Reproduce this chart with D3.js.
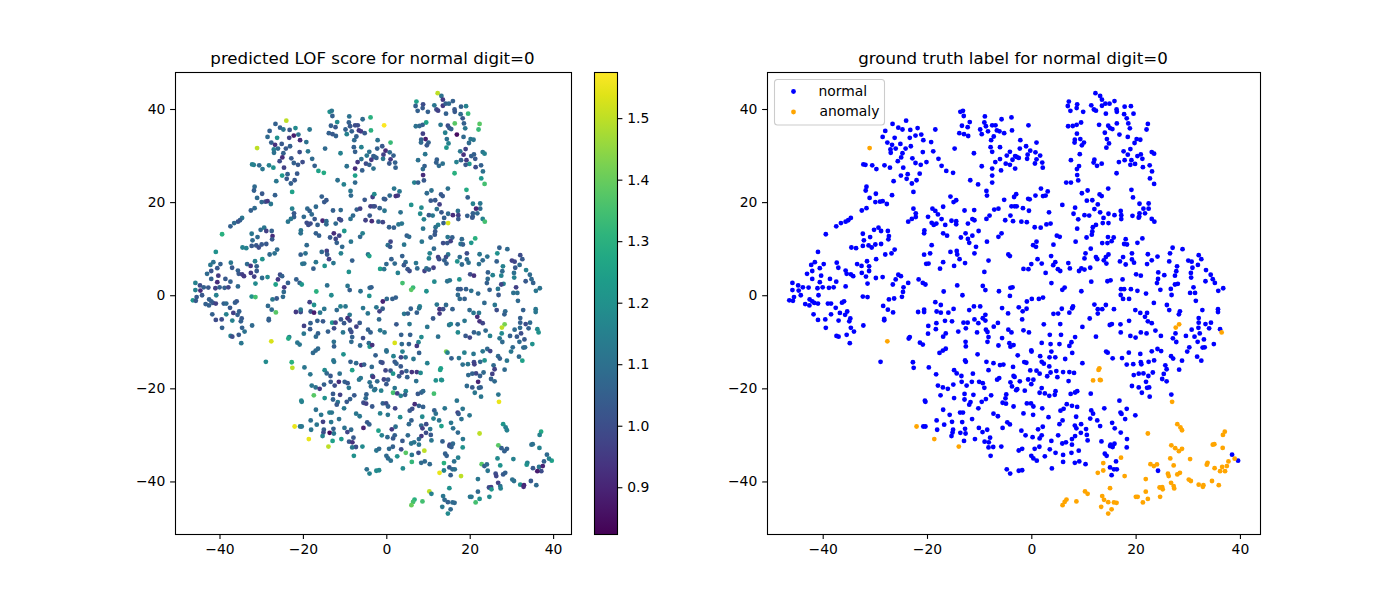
<!DOCTYPE html>
<html>
<head>
<meta charset="utf-8">
<title>LOF score</title>
<script src="https://cdn.jsdelivr.net/npm/d3@7"></script>
<style>
  html, body { margin: 0; padding: 0; background: #fff; }
  svg { display: block; }
  text { font-family: "DejaVu Sans", sans-serif; fill: #000; }
</style>
</head>
<body>
<svg id="chart"></svg>
<script>
// [x, y, LOF score]
const normalPts = [
[-26.7,36.8,1.05],[-25.6,36,1.05],[-24.1,37.5,1.5],[-24.8,35.6,1.12],[-23.3,35.5,1.03],[-21.9,35.9,1.18],[-18.5,35.6,1.12],[-28.1,35.3,1.05],[-22.3,34.3,.88],[-21.2,34.5,1.1],[-23.4,33.8,.97],[-28.6,34,1.08],[-26.3,33.8,1.2],[-20.8,33.3,.92],[-19.3,32.9,1.1],[-27.7,32.8,1.05],[-26.8,32.3,.93],[-25.2,32.5,1.03],[-23.2,32,1.05],[-27.1,31.3,1.15],[-26.1,31.5,1.08],[-24.2,31.5,1.03],[-27.05,30.6,1.1],[-24.8,30.5,1.05],[-20.9,30.75,1],[-18.9,30.9,1.12],[-14.8,31.5,1.08],[-11.1,30.5,1.15],[-25.05,29.6,.92],[-22.9,29.4,1.03],[-25.7,28.8,1],[-17.9,29.3,1.08],[-22.3,28.4,1.05],[-20.2,28.6,1],[-21.3,28,1.03],[-32.3,28.1,1.15],[-31.9,28,1.15],[-30.6,27.9,1.08],[-29.8,27.1,1.12],[-28.25,27.9,1.15],[-27.2,27.4,1.2],[-24.65,27.4,.97],[-17.3,27.8,1.05],[-16.4,26.7,1.25],[-15.1,26.3,1.28],[-23.8,26,1.05],[-21.5,26.1,1.03],[-25.1,25.7,1.22],[-24,25,1.03],[-22.1,24.7,1.03],[-26.5,24.5,1.12],[-23,24,1.05],[-22.7,22.2,1.25],[-31.7,23.3,1.08],[-31.85,22.5,1.05],[-29.9,21.8,1.03],[-26.8,21.5,1.05],[-31.1,20.9,1.08],[-30,20,1.08],[-29.1,20.1,1.02],[-28.6,20.2,.95],[-27.8,19.6,1.12],[-31.7,18.7,1.08],[-32.6,18.2,1.05],[-34.7,16.6,1.12],[-35.2,16.1,1.05],[-35.7,15.8,1.02],[-36.6,15.5,1.08],[-37.5,14.8,1.05],[-39.5,13.1,1.3],[-32.4,13.2,1.12],[-30.25,14.05,1.08],[-29.4,14.5,1.12],[-28.9,13.8,.97],[-27.6,13.8,1.05],[-27.4,12.7,.92],[-27.5,12,1.03],[-31,12.5,1.08],[-32.2,11.8,1.08],[-32.4,10.6,1.03],[-34.6,10.25,1.15],[-33.7,10.1,1.15],[-31.3,10.7,1.03],[-30.7,10.25,1],[-30,10.9,1.03],[-28.9,11,1.03],[-26.3,9.8,1.08],[-26.9,9,1.1],[-28.1,8.75,1.08],[-29.85,7.75,1.2],[-31.6,7.3,1.15],[-41,9.3,1.2],[-37.4,7,1.12],[-41.6,7.1,1.1],[-42.3,6.5,1.12],[-39.9,6.7,1.05],[-33.5,6.7,1.08],[-32.65,6.3,.95],[-37.1,5.9,1.03],[-40.65,5.8,1.03],[-31.2,6.2,1.05],[-42.1,5.2,1.02],[-43.1,4.6,1.08],[-35.7,5.3,1.05],[-35.5,4.6,1.03],[-34.7,4.5,.97],[-34.25,4.1,.95],[-32.6,4.8,.95],[-31.2,5.2,1.03],[-31.8,4,.97],[-40.4,4.2,.95],[-42.1,3.5,1.05],[-38.7,3.5,1.03],[-40.65,2.8,.92],[-37.5,2.9,1.05],[-29.9,3.7,1.08],[-28.6,3.9,1.18],[-25.6,4.4,1],[-25.1,4.1,1.05],[-26.1,3.4,.95],[-23.7,2.65,1.05],[-26.65,2.3,1.25],[-31.5,2.5,1.18],[-21.7,3.4,1.05],[-20.9,2.65,1.05],[-20.4,2.3,1.22],[-24.6,1.7,.95],[-24.7,.7,1.08],[-45.9,2.65,1.15],[-44.8,2.1,1],[-43.9,1.7,1.05],[-42.8,1.65,1.03],[-41.1,1.5,.97],[-40.1,1.7,1.05],[-38.9,1.6,1.05],[-38,1.7,.98],[-35.7,1.9,1.08],[-45.9,1.1,1.15],[-44.7,1,.92],[-44.3,0,1.03],[-40.9,0,1.15],[-46.5,-1.1,1.22],[-45.6,-.4,1.03],[-45.8,-1.2,1.03],[-32.4,-.3,1.2],[-31.5,-.4,1.35],[-27.4,-.9,1.12],[-26.4,-.7,1.03],[-24.9,-.35,1.08],[-14.3,2.1,1.1],[-16.9,.8,1.3],[-13.3,0,1.18],[-9.4,2,1.12],[-8.9,1.1,1.05],[-6.3,.85,1.1],[-4.2,-.15,1.2],[-4.1,1.6,1.08],[-3.7,1.7,1.05],[-42.6,-.9,1.05],
[-13.7,39.4,1.2],[-13.2,39.6,1.12],[-13.05,38.5,1.05],[-9,38.4,1.1],[-3.9,38.2,1.3],[-5.8,37.8,1.08],[-11.9,37.2,1.18],[-9.1,37.1,1.05],[-13.4,36.4,1.05],[-12.3,36.1,1.03],[-8.8,36.3,1.03],[-7.6,36.5,1],[-6.96,36.5,1],[-9.9,35.6,1.05],[-8.4,35.2,1.05],[-6.7,35.4,.95],[-6.2,35.2,.95],[-5.3,34.8,1.03],[-3.8,35.4,1.3],[-13.9,34.8,1.05],[-13,34.6,1.03],[-12.2,34.2,1.05],[-9.6,34.6,1.15],[-7.3,34.1,1.05],[-7.8,33.3,1.08],[-7.9,31.8,1.05],[-6.1,31.8,1.15],[-7.6,30.8,1.05],[-4.2,30.8,1.1],[-4.8,30,1.12],[-3.2,29.9,1.05],[-6.1,29.25,1.1],[-7,28.6,.95],[-5,28.25,1],[-4.2,28,1.05],[-9.6,27.7,1.1],[-7.6,27.2,.92],[-5.9,26.8,1.05],[-3.2,27.2,1.1],[-7.6,25.7,1.25],[-11.8,24.7,1.1],[-10.3,23.8,1.15],[-7.6,24.2,1.08],[-8.7,22.4,1.12],[-8.6,21.4,1.08],[-15.6,21.2,1.05],[-14.5,20.4,1.03],[-15,20,1.03],[-5.3,20.5,1.03],[-3.4,21.1,.97],[-3,21.7,1.18],[-3.3,19.1,1.05],[-3.9,19.1,.97],[-17,19,1.08],[-22.7,18.6,1.15],[-19.05,18.6,1.08],[-18.5,18.1,1.05],[-22.25,17.6,1.03],[-12.9,18.2,1.05],[-11.05,18.3,1.08],[-7.2,18.4,1.05],[-6.4,18.6,.97],[-8.1,17.1,1.08],[-8.7,16.4,1.1],[-22.25,16.8,1.05],[-23,16.4,1.12],[-23.7,15.8,1.12],[-19.9,16.85,1.08],[-18,17.35,1.08],[-17.3,16.35,1.03],[-15.4,16,.9],[-14.5,15.9,1.08],[-14.5,15.25,1.08],[-11.4,16.35,.98],[-11,16.1,1],[-12.25,15.4,1.08],[-4.1,17.1,1.03],[-5.1,16.1,.97],[-3.6,15.9,.92],[-19.2,15.55,1],[-18.3,15.4,1],[-18.8,15.1,1],[-16.6,15.1,1.05],[-20.6,13.9,1.12],[-20.65,13.3,1.1],[-17,13.3,1.05],[-16.25,12.8,1.05],[-12.7,13.3,.92],[-13.6,12.4,1.03],[-12.25,12.1,.98],[-11.4,12.8,.98],[-10.2,13.8,1.22],[-5.8,13.3,1.15],[-6.4,12.55,1.08],[-12,11.25,1.05],[-8.6,11.5,1.12],[-10.7,10.4,1.08],[-19.2,10.75,1.08],[-15.6,9.3,1.08],[-14.4,9.5,.97],[-14.3,8.75,1.03],[-11,9,1.15],[-20.65,8.7,1.05],[-19.5,9,1.1],[-4.5,8.75,1.12],[-4.2,8.4,1.25],[-13.85,7.75,.97],[-8.3,7.45,1.05],[-17,7.1,1.12],[-20.25,6.75,1.12],[-19.8,6.8,1.1],[-12.8,6.9,1.12],[-14.9,6.3,1.2],[-17.6,5.7,1.05],[-9.1,5,1.2],
[-.64,36.5,1.57],[-2.2,33.3,1.1],[.9,32.8,1.33],[-1.1,32,1.03],[-2.3,31.5,1.05],[-.3,31.05,.92],[-.8,30.2,.97],[.7,30.7,1.08],[1.6,30,1.05],[-.9,29.3,1.12],[-2.5,29.5,1.05],[.9,29.2,.95],[-3.7,29.1,.95],[-2.9,29.7,1.05],[2,28.5,1.05],[2.1,27.4,1.05],[.6,28.3,1.03],[7.1,41.6,1.25],[6.9,40.65,1.05],[8.7,41,1],[8.6,40.2,1.03],[7.4,39.6,1.05],[9.85,39.4,1.05],[12.2,43.4,1.5],[13.1,42.8,1.1],[13.45,42,.95],[11.4,40.8,1.12],[13.45,40.7,.95],[14.1,41.15,1.05],[14.9,41.15,1.08],[15.85,41.7,1.05],[11.9,39.9,1],[12.3,39.65,.97],[14.2,39,1.05],[16.25,39.9,1.03],[16.3,39.4,1.03],[17.8,40.5,1.05],[19,40.6,1.15],[19.5,39,1.33],[17.7,38.9,1.08],[18.2,38,1.03],[18.5,36.9,1.05],[16.3,36.9,1.38],[22.25,36.8,1.38],[22,35.6,1.33],[6.96,36.3,1.1],[7.85,36.35,1.08],[8.6,36.6,1.05],[9.45,37.1,1.25],[12.9,36.6,1.12],[14.65,36.4,1],[15,35.9,1.03],[15.45,35.7,1.05],[18.8,35.85,1.12],[14,34.9,1.15],[16.8,34.5,.85],[8.65,34.7,.97],[18.4,34,1.08],[9.3,33.55,.88],[8.25,33.4,1.05],[8.2,32.8,1.08],[10,32.8,1.05],[9.6,32.2,1.03],[14.4,33.55,1.1],[14.8,32.6,1.15],[14.3,31.7,1.22],[19.7,32.7,1.08],[20.1,33.55,1.12],[20.8,33.4,1.12],[18.9,31.4,.97],[17.6,30.9,1.12],[18.4,30.2,.93],[23,30.75,1.12],[23.45,30.4,1.15],[9.2,30.3,1.12],[20.25,29.9,1.05],[20.9,30.25,1.05],[21.2,29.3,1.03],[7.5,29,1.1],[12,29.1,1.05],[19.1,29,.95],[17.8,29,1.05],[16.7,28.6,1.15],[19.8,28.2,1.22],[18.9,28,1.03],[11.85,28.5,1.05],[12.5,27.8,1.08],[13.4,28.25,1.1],[22.6,27.9,1.05],[21.3,27.5,1],[9.05,27.75,1.05],[8.65,27.1,1.08],[23.05,26.6,1.1],[16.25,26.2,1.3],[8.7,25.8,.92],[22.65,25.1,1.22],[23.45,23.9,1.35],[6.6,24.2,1.15],[7.5,24.2,1.05],[8.9,24.65,1.03],[14.65,22.9,1.1],[19.1,22.65,1.28],[10.7,22.5,1.1],[9.6,21.9,1.08],[1.75,22.9,1.12],[3.05,22.3,1.12],[2.65,21.4,.97],[2.15,21.3,.93],[.7,21.4,1.08],[-.7,20.7,1.05],[-.4,20.6,1.03],[13,21.65,1.03],[13.4,21.3,1.03],[19.4,21,1.05],[10.55,20.3,1.03],[11.6,20.4,1.03],[12.65,19.5,.97],[5.85,19.4,1.2],[8.3,18.8,1.18],[12,18.5,1.1],[20.65,19.65,1.15],[22.4,19.7,1.12],[22.4,18.6,1.08],[21.4,18.6,.9],[-1.7,18.7,1.05],[-.55,18.15,1.12],[-2.9,19.1,1],[3.3,17.8,1.1],[13.1,17.8,1.03],[17.05,18.1,1.1],[8,17.5,1.18],[10.1,17.2,1.03],[11,17.1,1.12],[14.7,17.5,1.08],[15.85,17.2,.92],[17.15,17.2,.97],[17.15,16.35,1.03],[13.75,16.6,1.05],[19.3,17.05,1.05],[20.6,16.9,1.05],[20.65,17.6,1.05],[21.7,17.6,1.08],[20.5,16.65,1.03],[23,16.4,1.15],[23.5,15.8,1.35],[8.9,16.3,1.15],[13.6,15.5,1.05],[14.7,15.5,1.53],[12.3,15.1,1.15],[11.7,14.6,1.1],[8.7,14.3,1.12],[-2,15.8,1.05],[-.96,15.7,.98],[.55,14.6,1.05],[1.7,14.5,1.05],[2.8,15.2,1.12],[3.6,15.4,1.12],[11.6,13.7,1.03],[11.5,13,1.03],[10.5,12.4,1.05],[4.8,12.8,1.05],[5.35,12.55,1.08],[8.4,11.5,1.12],[14.6,12.5,1.12],[15.7,12.4,1.05],[15.3,11.6,.97],[14.5,11.2,1.03],[13.5,11.2,1],[18,12.05,1.08],[21.2,12.2,1.3],[20.25,11.25,1.22],[17.7,11,1.12],[18.25,10.9,1.05],[.9,11.5,.98],[.25,10.75,1.1],[.8,10.4,1.03],[4.15,10.85,1.12],[11.3,10,1.08],[27,10.2,1.05],[28.9,9.9,1.08],[10.3,9,1.15],[14.7,8.75,1.12],[26.5,9,1.2],[22.25,8.8,1.12],[19.2,9,1],[3.7,8.4,1.05],[12.3,8.2,.97],[12.55,7.75,1],[14.2,8.2,1],[13.8,7.5,1.05],[17.5,8.2,1.08],[24.1,8.3,1.1],[32,8.6,1],[32.5,7.75,1.03],[30,7.45,.97],[30.65,7.2,.98],[1.1,7.75,1.05],[10.1,7.9,1.15],[16.9,7.25,1.2],[19.2,7.7,1.08],[19.6,7,1.1],[23,7.5,1.08],[26.35,7.25,1.05],[-.1,6.7,1.08],[1.9,6.8,1.08],[4.5,7.1,1.08],[4.1,6.45,1.03],[7,6.9,1.12],[14.3,6.8,1.05],[18,6.6,1.08],[22.1,6.7,1.1],[31.85,6.5,1.08],[27.85,6.2,1.15],[30.8,5.9,1.03],[33.4,5.4,1.15],[-1.6,5.65,1.25],[-.65,5.6,1.12],[5,5.6,1.03],[5.45,5.2,1],[7.3,5.75,1.08],[9.05,5.2,.97],[9.5,5.75,1.1],[10.1,5.5,1.05],[11.2,5.9,.97],[27.7,5.15,1.08],[30.5,4.8,1.1],[2.65,4.8,1.15],[24.25,4.9,1.05],[20,4.5,1],[20.9,4.2,.93],[25.4,4.3,1.15],[27.45,4.2,1.15],[34.3,4.4,1.08],[30.55,3.8,1.15],[34.7,3.45,1.08],[24.2,3.5,1.08],[33.3,3,1.03],[35.1,2.65,1.05],[11.4,2.9,1.18],[14.5,3,1.1],[15.1,3.2,1.12],[17.4,3.4,1.2],[3.76,2.6,1.35],[24,2.6,1.05],[28,2.45,1.15],[27.45,2.3,.98],[6.3,1.65,1.33],[5.85,1.15,1.38],[31,1.7,.97],[26.65,1.35,1.12],[36.7,1.5,1.1],[35.75,.95,1.12],[17.1,1.3,1.05],[17.7,1.3,1.03],[19,1.3,1.05],[20.25,.95,1.1],[21.9,.35,1.08],[24.65,1.15,1.05],[30.35,.5,1.1],[31.3,.5,1.1],[26.8,.05,1.03],[9.5,.85,1.2],[17.05,.05,1.08],[17.5,-.8,1.08],[18.65,-.8,1.05],[2.15,-.5,1.05],[1.35,-.8,1.05],[0,-.8,1.08],
[-43.45,-1.9,1.05],[-42.65,-2.2,1.05],[-42.1,-1.3,1.05],[-41.7,-1.65,1.03],[-41,-1.8,.97],[-39.1,-1.8,1.05],[-38.5,-1.8,1.08],[-37.6,-2.7,1.03],[-36.4,-1.6,1.05],[-36,-1.3,1.03],[-41.85,-4.1,1.05],[-38.5,-4.1,1.15],[-36.8,-3.8,.97],[-35.8,-4.2,1.05],[-35.4,-3.5,1.05],[-41,-5.3,1],[-39.6,-5.2,1],[-37.05,-5.45,1.15],[-34.8,-5,1.03],[-35,-5.6,1.05],[-39.5,-7,1.05],[-34.7,-7,1.05],[-32.3,-6.5,1.08],[-34.1,-7.8,1.1],[-37.45,-8.75,1.15],[-37.05,-8.9,1],[-35.5,-8.5,1.03],[-34.9,-10.3,1.12],[-28.5,-2.3,1.08],[-27.6,-3.1,1.08],[-26.6,-3.7,1.38],[-21.8,-3.6,.95],[-20.65,-3.6,1],[-18.25,-3.5,1.03],[-17.45,-3.75,.88],[-16,-3.75,1.12],[-15,-2.95,1.12],[-20.65,-3.1,1.12],[-18.5,-1.5,.97],[-17.45,-2.1,1.2],[-12,-3.2,1.08],[-11.1,-2.4,1.15],[-9.9,-2.4,1.12],[-5.7,-2.75,1.12],[-4.55,-3.9,1.12],[-8.9,-4.2,1.12],[-9.4,-4.95,.93],[-11,-5.2,1.03],[-8.9,-5.45,.98],[-28.3,-5.1,1.05],[-28.3,-5.4,1.05],[-16.65,-5.5,1.05],[-15.3,-5.6,1.03],[-13.1,-5.9,1.22],[-12.3,-5.9,.97],[-10.25,-6,1.03],[-6.5,-5.95,1.03],[-18.3,-6,1.05],[-19.85,-6.6,.97],[-18.4,-7.3,1.03],[-12.65,-7.1,1],[-7.3,-6.75,.97],[-8.8,-7.4,1.03],[-8.5,-7.9,1],[-10.5,-8,1.12],[-14.1,-7.8,1.05],[-19.9,-8.25,1.12],[-16.5,-8.2,1.05],[-17,-8.9,1.08],[-23.4,-9,1.15],[-23.6,-9.3,1.28],[-8.3,-9,1.05],[-5.7,-9.2,1],[-8.5,-10,1.08],[-12.7,-10,1.1],[-12.65,-11,1.05],[-21.45,-10.2,1.12],[-20.9,-10.6,1.12],[-6.4,-10.8,1.08],[-4.3,-10.3,1.08],[-4.1,-11.05,1.22],[-3.5,-10.7,.93],[-4.5,-7.4,1.05],[-3.9,-8,1.05],[-16.5,-11.5,1.08],[-17.05,-11.9,1.08],[-17.7,-12.4,1.08],[-10.4,-12.7,1.2],[-29,-14.3,1.18],[-22.8,-14.4,1.3],[-22.65,-15.6,1.5],[-19.75,-15.5,1.12],[-12.8,-14,1.12],[-12.65,-14.3,1.12],[-8.7,-14.3,1.05],[-7.35,-14.6,1.08],[-6.1,-15,.92],[-5.45,-14.9,1.05],[-3.6,-15.4,1.08],[-18.35,-17,1.12],[-14.9,-16.1,1.18],[-14.4,-16.8,1.08],[-13.5,-17.35,1.03],[-11.3,-16.85,1.1],[-8.3,-16.1,1.25],[-3.5,-17.35,1.1],[-3.3,-17.55,.95],[-6.25,-17.8,1.12],[-6.65,-18.15,1.12],[-13.45,-18.6,1.03],[-11.5,-18.6,.92],[-10.1,-18.6,1.05],[-9.4,-18.9,1.03],[-4.1,-18.7,1.1],[-3.8,-19.6,1.08],[-18,-19.4,1.12],[-17.05,-19.8,1.1],[-16.1,-20.1,.95],[-15.05,-19.2,1.05],[-12.5,-19.4,1],[-9.1,-19.9,1.12],[-3,-20.4,1.15],[-12.9,-21.2,1.03],[-11.2,-21.4,.97],[-17.5,-21.5,1.38],[-14.9,-22.1,1.2],[-7.8,-21.5,1.03],[-4.9,-21.3,1.05],[-5.05,-22.15,1.08],[-8.8,-22.3,1.05],[-12.9,-22.4,1.05],[-9.6,-22.9,1.03],[-11.75,-22.95,1.12],[-12,-23.5,1.03],[-20.5,-22.65,1.18],[-20.4,-22.9,1.15],[-5.6,-23.1,1],[-4.95,-23.3,.97],[-3.5,-23.9,1.03],[-17,-24.6,1.1],[-10.25,-24.3,1.12],[-15.75,-25.7,1.12],[-7.35,-25.45,1.12],[-6.5,-26,1.12],[-13.75,-25.2,1.15],[-13.2,-25.2,1.12],[-18.25,-26.9,1.1],[-15.3,-27.2,.97],[-13.35,-27.25,1.12],[-11.45,-26.6,1.1],[-16.8,-27.8,1.12],[-20.8,-28.2,1.12],[-20.4,-28.2,1.12],[-12.8,-28.7,1.05],[-10.15,-28.5,1.1],[-8.55,-28.9,1.08],[-5.6,-28.5,.9],[-4.7,-27.3,1.03],[-4.2,-27.75,1.05],[-18.15,-28.9,1.12],[-15.1,-28.9,1.05],[-15.2,-29.5,1],[-13.7,-29.55,.85],[-12.7,-29.7,1.12],[-9.45,-29.4,.98],[-15.4,-30.25,1.15],[-13,-31.3,1.25],[-10.9,-30.9,1.22],[-8,-30.6,1.03],[-9.05,-31.45,1.03],[-8.25,-31.6,.93],[-7.4,-32.6,1],[-8.3,-32.7,1.12],[-5.85,-32.5,1.18],[-7.9,-34.5,1.2],[-4.8,-37.4,1.1],[-4.15,-38.3,1.15],
[-.95,-1.35,.9],[-2.5,-2.6,1.12],[-1,-2.9,1.05],[-1.75,-3.45,.97],[5.75,-2.9,1.05],[7.9,-2.4,1.15],[7.75,-2.8,1.12],[12,-2,1.12],[14.2,-2.1,1.08],[12.65,-3,.93],[13.5,-3,1],[15.75,-3,1.05],[12.65,-3.95,.95],[4.15,-4,1.12],[5.05,-3.95,1.05],[7.2,-3.75,1.05],[11.1,-5,1.03],[-1.85,-5.2,1.08],[19.85,-3.2,1.08],[20.8,-3.8,1.12],[22.1,-3.8,1.12],[21.7,-4.65,.92],[22.25,-5.6,.93],[23,-6,.98],[18.65,-5.5,1.12],[23.4,-1.65,1.08],[25.9,-2.1,1.12],[26.35,-3.2,1],[28.4,-3.45,1.08],[28.2,-4.1,1.05],[31.45,-1.2,1.08],[32.7,-3.2,1.05],[35.7,-3,1.12],[35.7,-3.6,1.12],[32,-4.9,1.05],[32,-5.9,1.05],[34.35,-5.9,1.08],[33.3,-6.2,1],[31.95,-7,1.08],[34,-7.1,1.05],[30.65,-7.4,1.08],[36.1,-7.3,1.18],[27.55,-8.2,1.18],[32.2,-8.2,1],[29.55,-8.75,1.05],[31.2,-8.9,1.03],[27.05,-9.25,1.12],[27.7,-10.05,1.08],[33,-9.5,1.03],[31.8,-10,1.08],[34.9,-10.5,1.2],[32.75,-11.25,1.08],[33.15,-11.2,1.08],[30.2,-11.2,1.08],[29.8,-12.1,1.12],[31.7,-13.2,1.08],[32.5,-14.05,1.25],[2.3,-6.25,1.03],[5.45,-6.2,1.12],[9.7,-6.8,1.12],[14.95,-6.4,1.12],[15.35,-6.2,1.15],[17,-6.25,1.08],[-1.6,-7.55,1.12],[-.55,-8,1.12],[17.05,-8,1.18],[20.9,-8,1.05],[22,-8.2,1.08],[23.7,-7.6,1.08],[24.75,-8.75,1.15],[3.45,-8.5,1.05],[5.6,-8.5,1.05],[8.3,-9,1.18],[12.3,-8.9,1.1],[18.9,-8.75,1.03],[19.9,-9.1,.98],[1.9,-10.25,1.53],[3.6,-10.5,1.08],[5.3,-10.5,1.05],[7.6,-10.1,1.15],[7.2,-10.9,.95],[-.1,-11.85,1.1],[-.05,-12.1,1.1],[3.75,-12.1,1.15],[7.75,-12.4,1.05],[-2.7,-12.9,1.05],[1.6,-13.1,1.15],[3.4,-13.35,.98],[4.5,-13.35,1.1],[6.4,-13.7,1.12],[14.25,-12.1,1.42],[14.55,-12.35,1.15],[18.6,-12.35,1.15],[20.8,-12.6,1.12],[23,-12.05,1.12],[24.1,-11.55,1.08],[24.8,-12,.98],[15.5,-13.55,1.05],[17.3,-13.5,1.12],[26.7,-13.1,1.08],[27.1,-13.6,1.05],[23.45,-14,1.2],[22.4,-14.3,1.08],[28.8,-14.05,1.12],[-1.45,-14.35,1.03],[-1.05,-14.5,1],[1.9,-14.3,1.03],[2.3,-14.7,1.05],[3.35,-15.3,1.03],[9.7,-14.6,1.15],[18.2,-14.9,1.1],[19.45,-14.8,1.12],[20.9,-14.4,.98],[21,-14.85,.97],[25.6,-15.05,1.08],[25.85,-15.9,.97],[28.25,-16,1.08],[-.3,-16.15,.98],[.9,-16.2,1.03],[1.5,-16.85,1.22],[4.7,-16.3,1.05],[3.6,-16.6,.98],[2.95,-17.4,1.03],[6,-16.5,.93],[7.2,-16.5,.95],[8.1,-16.7,1.18],[4.9,-17.6,1.05],[23.2,-16.6,1.08],[21.4,-16.8,.98],[20.5,-16.85,1.05],[19.55,-17.15,1.08],[22.35,-17.35,1.05],[25.3,-16.9,.97],[25,-18,1.05],[25.85,-18.5,1.08],[-.7,-18.1,.98],[.3,-18.15,1.03],[-.1,-19.1,1.03],[7.05,-18.45,1.1],[-2.3,-18.5,1.08],[21.9,-18.6,.9],[19.2,-19.5,1.08],[20.5,-19.8,1.03],[22.5,-19.8,1.05],[22.1,-19.9,1.05],[-2.8,-20.2,1.1],[-1.35,-20.5,1.15],[1.9,-19.95,1.12],[1.5,-20.95,1.35],[2.5,-21.1,.97],[3.35,-21.6,1.15],[4.55,-20.6,1.15],[4.4,-21.4,1.05],[7.45,-21.2,1.03],[8.3,-20.9,1.05],[8.7,-20.6,1.08],[11.3,-21.15,1.35],[21.1,-20.95,1.12],[26.75,-21.35,1.12],[22.6,-21.8,1.12],[16.8,-22.65,1.12],[-.95,-23.25,1.05],[-.15,-23.25,1],[.3,-23.9,1.05],[2,-24.3,.98],[6.7,-23.4,.92],[7.7,-23.75,1.05],[8.7,-24,1.05],[6.1,-24.4,1],[5.5,-24.8,1.03],[11.4,-24.75,1.05],[11.75,-25.45,1.1],[13.9,-24.3,1.12],[17,-25.2,.97],[17.2,-25.5,1.03],[18.2,-24.4,1.12],[19.85,-25.8,1.12],[-1.6,-25.4,1.15],[.25,-25.7,1.12],[3.2,-26.2,1.18],[8.5,-26.1,1.18],[5.9,-26.9,1.05],[11.2,-26.5,1.15],[12.55,-26.9,1.12],[17.9,-26.6,1.1],[5.3,-27.7,1.08],[8.25,-28,1.08],[9.45,-27.7,1],[8.55,-28.6,.97],[13.1,-28.1,1.25],[15.4,-27.4,1.12],[15.9,-28.6,1.1],[2.1,-28.25,1.1],[1.2,-28.8,.95],[10.4,-28.75,1.12],[9.4,-29.55,1],[8.3,-30.25,.95],[17.05,-29.5,1.08],[-2,-29.1,1.25],[-1.2,-30.1,1.15],[.15,-30.5,1.08],[1.9,-30.1,1.05],[1.5,-30.75,1.03],[5.05,-30.1,1.08],[3.75,-31.3,1.03],[7.7,-30.9,1.08],[10.55,-30,1.03],[10.7,-31.2,1.12],[18.25,-30.9,1.12],[13.35,-31.4,1.05],[5.85,-31.85,1.12],[6.55,-31.6,1.12],[7.7,-32.1,1.12],[15.1,-32.1,.98],[15,-32.4,1],[15.85,-31.9,1.08],[15.5,-32.6,1.05],[18.2,-32.7,1.2],[-2.5,-33.35,1.12],[-1.85,-33,1.08],[.55,-33,1.08],[1.45,-32.55,1.05],[3.45,-33.1,1],[4.55,-33.85,1.38],[6,-34.3,1.12],[7.6,-33.85,1],[9,-33.4,1.5],[38.4,-34.25,1.08],[14,-34.05,1.05],[14.35,-34.5,1.05],[-.1,-34.5,1.08],[.3,-35.05,1.08],[.95,-35.55,1.1],[2.5,-34.6,1.2],[39.55,-35.55,1.25],[6,-35.8,1.32],[8.25,-36,1.08],[9.1,-35.7,1.08],[10.3,-36.3,1.08],[16.15,-35.7,1.1],[24.2,-37.7,1.12],[15,-37,1.03],[15.75,-37.4,1.08],[16.3,-37.4,1.1],[3.85,-37.2,1.18],[-1.85,-37.6,1.18],[-2.5,-37.7,1.18],[15.3,-38.65,1.05]
];
const anomalyPts = [
[-31.1,31.6,1.5],[-27.7,-9.9,1.53],[-22.1,-28.2,1.55],[-18.7,-30.9,1.55],[-14,-32.5,1.5],[28.25,-6.25,1.42],[27.6,-6.95,1.5],[36.4,-8,1.2],[26.9,-22.9,1.55],[12.95,-15.7,1.25],[12.8,-16.05,1.25],[11.75,-18.3,1.2],[13.05,-18.2,1.2],[13.2,-18.25,1.2],[22.25,-29.7,1.5],[27.9,-27.7,1.22],[28.5,-28.4,1.15],[28.8,-29,1.15],[37,-29.3,1.28],[36.65,-30,1.15],[26.75,-32.25,1.38],[27.5,-32.85,1.05],[28.8,-33,1.05],[28.2,-33.5,1.05],[34.7,-32.1,1.1],[35,-32,1.1],[36.6,-32.8,1.15],[26.55,-35.05,1.18],[30.35,-35.2,1.15],[17.1,-34.9,1.15],[13.7,-36.05,1.3],[12.65,-38.15,1.55],[13.7,-37.65,1.15],[17.8,-38.85,1.5],[22.75,-36.3,1.38],[23.4,-36.7,1.05],[24,-36.35,1.08],[27.2,-36.55,1.2],[33.7,-36,1.15],[33.55,-36.4,1.2],[35.05,-37.15,1.03],[36.5,-36.9,1.12],[37.4,-36.7,.9],[37.7,-35.7,1.05],[38.9,-35.1,1.15],[37.05,-37.8,1],[36.1,-37.8,.88],[26.1,-38.35,1],[26.25,-38.85,.98],[27.9,-38.5,1.03],[28.4,-38.15,1.05],[21.85,-39.5,1.12],[30.1,-39.6,1.1],[30.5,-39.9,1.1],[34.55,-39.9,1.03],[35.85,-40.8,1.08],[26.7,-40.3,.97],[32,-40.7,1.2],[32.9,-40.8,.9],[32.8,-41.15,.92],[24.5,-41.3,1],[25,-41.2,.97],[27.2,-41,1.1],[25.1,-41.7,1.22],[27.3,-41.5,1.15],[15,-41.45,1.2],[10.2,-42.15,1.5],[10.7,-42.65,1.15],[21.85,-42.2,1.08],[13.5,-43.15,1.12],[13.85,-43.95,1.08],[19.95,-43.3,1.12],[20.3,-43.3,1.12],[22.25,-43.75,1.2],[24.6,-43.3,1.18],[6.65,-43.9,1.3],[6.3,-44.4,1.35],[5.9,-45.1,1.4],[8.55,-44.3,1.35],[14.65,-44.45,1.05],[15.75,-44.5,1.08],[16.25,-44.6,1.08],[21.3,-44.5,1.35],[13.3,-45.45,1.12],[15.3,-46,1.08],[14.65,-46.9,1.18]
];

const xTicks = [-40, -20, 0, 20, 40];
const yTicks = [-40, -20, 0, 20, 40];
const cbarTicks = [0.9, 1.0, 1.1, 1.2, 1.3, 1.4, 1.5];
const yDomain = [-51.29, 47.95];
const scoreDomain = [0.824, 1.575];
const legendItems = [
  { label: "normal", color: "blue" },
  { label: "anomaly", color: "orange" }
];

const width = 1400;
const height = 600;
const plotTop = 72;
const plotBottom = 534;
const leftPanel = { x0: 175, x1: 571, domain: [-50.67, 44.29] };
const rightPanel = { x0: 767, x1: 1260, domain: [-50.68, 43.85] };
const cbar = { x0: 594, x1: 617 };

const svg = d3.select("#chart")
  .attr("width", width)
  .attr("height", height);

const color = d3.scaleSequential(d3.interpolateViridis).domain(scoreDomain);
const allPts = normalPts.concat(anomalyPts);

function styleAxis(a) {
  a.select(".domain").remove();
  a.selectAll("line").attr("stroke", "#000").attr("stroke-width", 1.1);
  a.selectAll("text")
    .attr("fill", "#000")
    .style("font-family", '"DejaVu Sans", sans-serif')
    .style("font-size", "13.9px");
}

function panel(box, title, layers) {
  const x = d3.scaleLinear().domain(box.domain).range([box.x0 + 0.5, box.x1 + 0.5]);
  const y = d3.scaleLinear().domain(yDomain).range([plotBottom, plotTop]);
  const g = svg.append("g");

  layers.forEach(layer => {
    g.append("g").selectAll("circle")
      .data(layer.pts)
      .enter()
      .append("circle")
      .attr("cx", d => x(d[0]))
      .attr("cy", d => y(d[1]))
      .attr("r", 2.4)
      .attr("fill", layer.fill);
  });

  g.append("g")
    .attr("transform", `translate(0,${plotBottom})`)
    .call(d3.axisBottom(x).tickValues(xTicks).tickSize(4.9).tickPadding(4.8).tickSizeOuter(0).offset(0))
    .call(styleAxis);

  g.append("g")
    .attr("transform", `translate(${box.x0},0)`)
    .call(d3.axisLeft(y).tickValues(yTicks).tickSize(4.9).tickPadding(4.8).tickSizeOuter(0))
    .call(styleAxis);

  g.append("rect")
    .attr("x", box.x0 + 0.5)
    .attr("y", plotTop + 0.5)
    .attr("width", box.x1 - box.x0)
    .attr("height", plotBottom - plotTop)
    .attr("fill", "none")
    .attr("stroke", "#000")
    .attr("stroke-width", 1.1);

  g.append("text")
    .attr("x", (box.x0 + box.x1) / 2 - 0.5)
    .attr("y", plotTop - 8)
    .attr("text-anchor", "middle")
    .style("font-size", "16.67px")
    .text(title);
}

panel(leftPanel, "predicted LOF score for normal digit=0", [
  { pts: allPts, fill: d => color(d[2]) }
]);
panel(rightPanel, "ground truth label for normal digit=0", [
  { pts: normalPts, fill: "blue" },
  { pts: anomalyPts, fill: "orange" }
]);

// colorbar
const yCbar = d3.scaleLinear().domain(scoreDomain).range([plotBottom, plotTop]);
const grad = svg.append("defs").append("linearGradient")
  .attr("id", "viridis")
  .attr("x1", 0).attr("y1", 1).attr("x2", 0).attr("y2", 0);
d3.range(0, 1.0001, 0.05).forEach(t => {
  grad.append("stop")
    .attr("offset", t)
    .attr("stop-color", d3.interpolateViridis(t));
});
svg.append("rect")
  .attr("x", cbar.x0 + 0.5)
  .attr("y", plotTop + 0.5)
  .attr("width", cbar.x1 - cbar.x0)
  .attr("height", plotBottom - plotTop)
  .attr("fill", "url(#viridis)")
  .attr("stroke", "#000")
  .attr("stroke-width", 1.1);
svg.append("g")
  .attr("transform", `translate(${cbar.x1 + 0.5},0)`)
  .call(d3.axisRight(yCbar).tickValues(cbarTicks).tickFormat(d3.format(".1f")).tickSize(4.9).tickPadding(4.8).tickSizeOuter(0))
  .call(styleAxis);

// legend
const legend = svg.append("g").attr("transform", "translate(774.5,79.5)");
legend.append("rect")
  .attr("width", 110)
  .attr("height", 45.5)
  .attr("rx", 3)
  .attr("fill", "#fff")
  .attr("fill-opacity", 0.8)
  .attr("stroke", "#ccc")
  .attr("stroke-width", 1.1);
const rows = legend.selectAll("g")
  .data(legendItems)
  .enter()
  .append("g")
  .attr("transform", (d, i) => `translate(0,${12 + i * 20.5})`);
rows.append("circle")
  .attr("cx", 19)
  .attr("r", 2.4)
  .attr("fill", d => d.color);
rows.append("text")
  .attr("x", (d, i) => 44 + i)
  .attr("dy", "0.3em")
  .style("font-size", "13.9px")
  .text(d => d.label);
</script>
</body>
</html>
